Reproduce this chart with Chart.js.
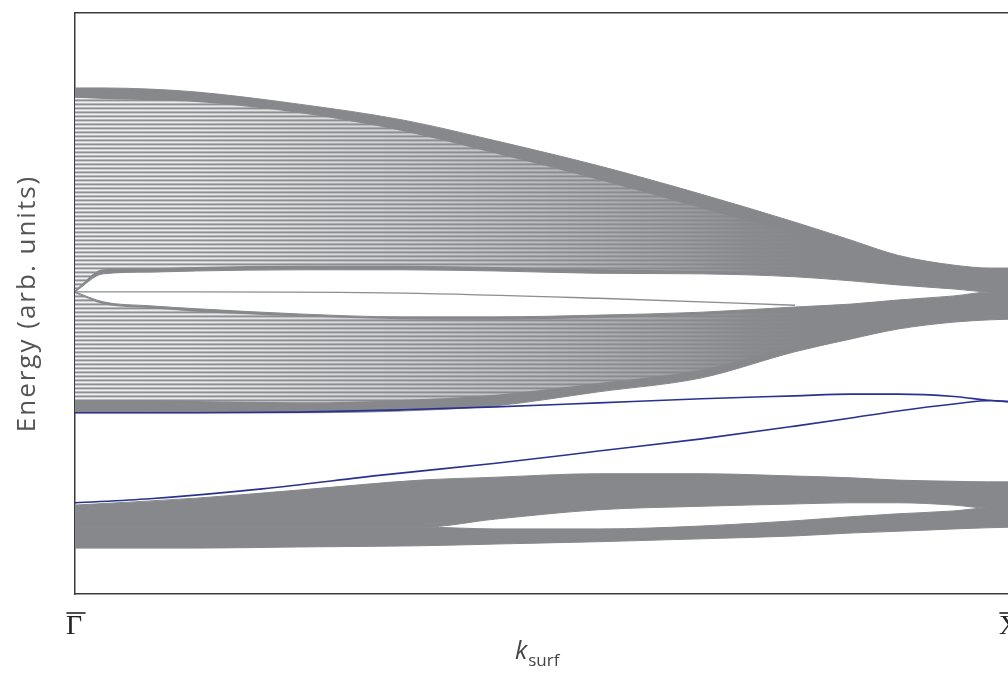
<!DOCTYPE html>
<html>
<head>
<meta charset="utf-8">
<script src="https://cdn.jsdelivr.net/npm/chart.js@4.4.1/dist/chart.umd.min.js"></script>
<style>
  html, body { margin: 0; padding: 0; background: #fff; overflow: hidden; }
  #wrap { position: relative; width: 1040px; height: 673px; }
  #xlabel { position: absolute; left: 515px; top: 637px; font-family: 'Open Sans', sans-serif; font-size: 25px; color: #444; line-height: 1; }
  #xlabel i { font-style: italic; }
  #xlabel sub { font-size: 17px; vertical-align: -7px; margin-left: 1px; }
</style>
</head>
<body>
<div id="wrap">
  <canvas id="bandChart" width="1040" height="673"></canvas>
  <div id="xlabel"><i>k</i><sub>surf</sub></div>
</div>
<script>
// k along the surface path, 0 = Gamma-bar, 1 = X-bar
const kUpper = [0, 0.03, 0.08, 0.13, 0.24, 0.35, 0.45, 0.56, 0.67, 0.77, 0.83, 0.88, 0.94, 0.98, 1.0];
const upperTop = [87.1, 87.1, 86.9, 86.4, 84.3, 81.6, 78.0, 73.7, 68.8, 64.0, 60.9, 58.3, 56.6, 56.1, 56.1];
const lensTop = [52.0, 55.1, 55.4, 55.6, 55.8, 55.8, 55.6, 55.2, 55.1, 54.6, 53.9, 53.2, 52.5, 52.0, 52.0];
const lensBottom = [52.0, 50.3, 49.6, 49.1, 48.2, 47.7, 47.7, 48.0, 48.5, 49.4, 49.9, 50.6, 51.3, 52.0, 52.0];
const upperBottom = [31.2, 31.2, 31.2, 31.2, 31.2, 31.5, 32.4, 34.8, 37.2, 41.7, 43.9, 45.6, 46.8, 47.2, 47.3];

// light, densely striped parts of the upper bulk bands
const stripeTop = [85.4, 85.2, 85.0, 84.7, 82.8, 79.7, 75.8, 71.3, 66.4, 62.0, 59.2, 57.3, 56.1, 55.8, 55.8];
const stripeBottom = [52.3, 55.9, 56.1, 56.3, 56.5, 56.5, 56.3, 55.9, 55.6, 55.1, 54.4, 53.7, 53.0, 52.5, 52.5];
const stripe2Top = [51.8, 49.9, 49.2, 48.6, 47.8, 47.3, 47.2, 47.5, 48.0, 48.8, 49.4, 50.1, 50.8, 51.5, 51.5];
const stripe2Bottom = [33.4, 33.4, 33.4, 33.2, 33.0, 33.4, 34.3, 36.3, 38.6, 42.7, 44.4, 46.3, 47.2, 47.5, 47.5];

// single band running inside the upper gap
const kThin = [0, 0.13, 0.35, 0.56, 0.77];
const thinBand = [52.0, 52.0, 51.8, 50.9, 49.7];

// lower bulk band
const kLower = [0, 0.13, 0.24, 0.37, 0.45, 0.56, 0.67, 0.77, 0.83, 0.88, 0.94, 0.976, 1.0];
const lowerTop = [15.3, 16.5, 17.9, 19.6, 20.1, 20.7, 20.7, 20.3, 20.0, 19.6, 19.4, 19.3, 19.3];
const lowerLensTop = [11.5, 11.5, 11.5, 11.5, 12.9, 14.5, 15.1, 15.5, 15.7, 15.7, 15.3, 14.8, 14.8];
const lowerLensBottom = [11.5, 11.5, 11.5, 11.5, 11.2, 11.2, 11.7, 12.6, 13.3, 13.8, 14.3, 14.8, 14.8];
const lowerBottom = [7.9, 7.9, 8.1, 8.3, 8.6, 9.0, 9.5, 10.0, 10.5, 10.8, 11.2, 11.4, 11.5];

// surface states (blue)
const kSurf1 = [0, 0.13, 0.24, 0.35, 0.45, 0.56, 0.67, 0.77, 0.83, 0.88, 0.94, 0.98, 1.0];
const surf1 = [31.2, 31.2, 31.3, 31.7, 32.2, 32.9, 33.6, 34.1, 34.4, 34.4, 34.0, 33.3, 33.1];
const kSurf2 = [0, 0.08, 0.2, 0.33, 0.45, 0.56, 0.67, 0.77, 0.83, 0.88, 0.94, 0.98, 1.0];
const surf2 = [15.7, 16.4, 18.1, 20.5, 22.5, 24.6, 26.7, 28.9, 30.3, 31.5, 32.7, 33.3, 33.1];

const tickValues = [0, 1];
const tickLabels = ['\u0393', 'X'];

const GRAY = '#87888c';
const BLUE = '#2a3190';
const FRAME = '#3c3c3c';
const TICK_FONT = { family: 'Liberation Serif', size: 28 };
// how fast the striped texture fades into solid grey towards X-bar
const FADE = [[0, 0], [0.13, 0.06], [0.35, 0.3], [0.5, 0.5], [0.62, 0.72], [0.72, 0.95], [0.78, 1]];

function pts(xs, ys) {
    return xs.map((x, i) => ({ x: x, y: ys[i] }));
}

let stripeCache = null;
function stripes(chart) {
    if (!chart.chartArea) return GRAY;
    if (stripeCache) return stripeCache;
    const off = document.createElement('canvas');
    off.width = chart.width;
    off.height = chart.height;
    const c = off.getContext('2d');
    const rows = ['#8e8f93', '#cdced0', '#f1f1f2', '#b7b8bb'];
    for (let y = 0; y < off.height; y++) {
        c.fillStyle = rows[y % rows.length];
        c.fillRect(0, y, off.width, 1);
    }
    const a = chart.chartArea;
    const g = c.createLinearGradient(a.left, 0, a.right, 0);
    FADE.forEach(s => g.addColorStop(s[0], 'rgba(135,136,140,' + s[1] + ')'));
    c.fillStyle = g;
    c.fillRect(0, 0, off.width, off.height);
    stripeCache = chart.ctx.createPattern(off, 'no-repeat');
    return stripeCache;
}

const datasets = [];
// two edges, the first filled down to the second
function band(xs, top, bottom, color, edge, order) {
    const i = datasets.length;
    datasets.push({ data: pts(xs, top), fill: i + 1, backgroundColor: color, borderColor: GRAY, borderWidth: edge, order: order });
    datasets.push({ data: pts(xs, bottom), fill: false, borderColor: GRAY, borderWidth: edge, order: order });
}

band(kUpper, upperTop, lensTop, GRAY, 1, 10);
band(kUpper, lensBottom, upperBottom, GRAY, 1, 10);
band(kLower, lowerTop, lowerLensTop, GRAY, 1, 10);
band(kLower, lowerLensBottom, lowerBottom, GRAY, 1, 10);
band(kUpper, stripeTop, stripeBottom, ctx => stripes(ctx.chart), 0, 6);
band(kUpper, stripe2Top, stripe2Bottom, ctx => stripes(ctx.chart), 0, 6);

datasets.push({ data: pts(kThin, thinBand), fill: false, borderColor: '#8c8d91', borderWidth: 1.3, order: 4 });
datasets.push({ data: pts(kSurf1, surf1), fill: false, borderColor: BLUE, borderWidth: 1.6, order: 0 });
datasets.push({ data: pts(kSurf2, surf2), fill: false, borderColor: BLUE, borderWidth: 1.6, order: 0 });

datasets.forEach(d => {
    d.pointRadius = 0;
    d.cubicInterpolationMode = 'monotone';
});

// spaced-out axis lettering, and the bar over the symmetry point labels
const lettering = {
    id: 'lettering',
    beforeDraw(chart) {
        chart.ctx.letterSpacing = '2px';
    },
    afterDraw(chart) {
        const ctx = chart.ctx;
        const s = chart.scales.x;
        ctx.letterSpacing = '0px';
        ctx.save();
        ctx.font = TICK_FONT.size + 'px "' + TICK_FONT.family + '"';
        ctx.strokeStyle = '#222';
        ctx.lineWidth = 1.6;
        const y = s.top + 19;
        s.ticks.forEach(t => {
            const x = s.getPixelForValue(t.value) + 1;
            const w = ctx.measureText(t.label).width + 3;
            ctx.beginPath();
            ctx.moveTo(x - w / 2, y);
            ctx.lineTo(x + w / 2, y);
            ctx.stroke();
        });
        ctx.restore();
    }
};

new Chart(document.getElementById('bandChart'), {
    type: 'line',
    data: { datasets: datasets },
    plugins: [lettering],
    options: {
        responsive: false,
        animation: false,
        events: [],
        layout: { padding: { top: 13, left: 0, right: 30, bottom: 0 } },
        plugins: {
            legend: { display: false },
            tooltip: { enabled: false }
        },
        scales: {
            x: {
                type: 'linear',
                position: 'bottom',
                min: 0,
                max: 1,
                grid: { display: false },
                border: { display: true, color: FRAME, width: 1.5 },
                afterBuildTicks: s => { s.ticks = tickValues.map(v => ({ value: v })); },
                afterFit: s => { s.height = 79; },
                ticks: {
                    autoSkip: false,
                    maxRotation: 0,
                    padding: 8,
                    color: '#222',
                    font: TICK_FONT,
                    callback: v => tickLabels[tickValues.indexOf(v)]
                }
            },
            xTop: {
                type: 'linear',
                position: 'top',
                min: 0,
                max: 1,
                grid: { display: false },
                ticks: { display: false },
                border: { display: true, color: FRAME, width: 1.5 },
                afterFit: s => { s.height = 0; }
            },
            y: {
                min: 0,
                max: 100,
                grid: { display: false },
                ticks: { display: false },
                border: { display: true, color: FRAME, width: 1.5 },
                afterFit: s => { s.width = 75; },
                title: {
                    display: true,
                    text: 'Energy (arb. units)',
                    color: '#555',
                    font: { family: 'Open Sans', size: 26 },
                    padding: { top: 12, bottom: 0 }
                }
            }
        }
    }
});
</script>
</body>
</html>
